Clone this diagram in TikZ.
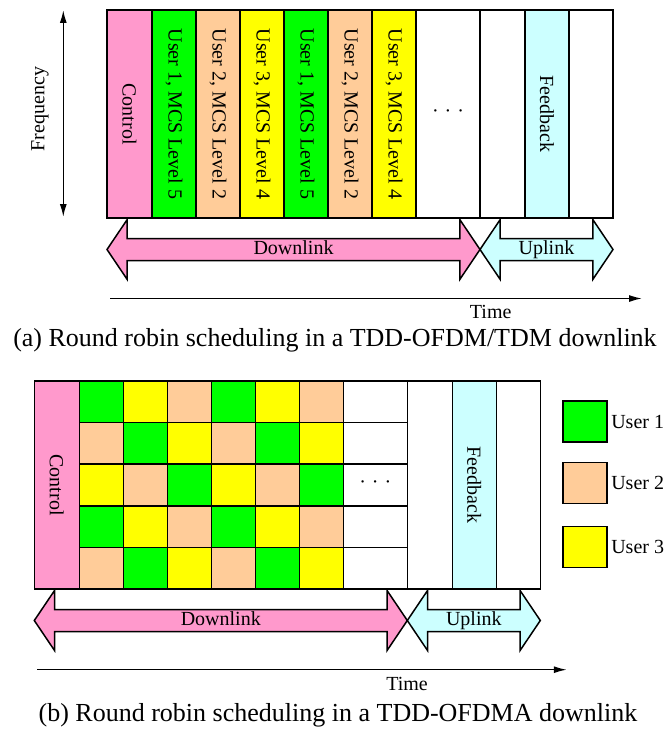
\documentclass[tikz,border=0pt]{standalone}
\usepackage{fontspec}
\setmainfont{Liberation Serif}
\usetikzlibrary{positioning,shapes.arrows,arrows.meta}

\definecolor{ctrl}{RGB}{255,153,204}
\definecolor{user1}{RGB}{0,255,0}
\definecolor{user2}{RGB}{255,204,153}
\definecolor{user3}{RGB}{255,255,0}
\definecolor{fback}{RGB}{204,255,255}

\begin{document}
\begin{tikzpicture}
    [x=1pt, y=-1pt, line width=1.5pt,
     every node/.style={font=\fontsize{20}{24}\selectfont},
     slot/.style={draw, rotate=-90, inner sep=0pt,
       minimum width=208pt, minimum height=#1},
     blank/.style={draw, inner sep=0pt, minimum width=#1, minimum height=208pt},
     cell/.style={draw, inner sep=0pt, minimum width=44pt, minimum height=41.6pt},
     link/.style={double arrow, draw, inner xsep=2pt, inner ysep=1pt,
       text height=14pt, text depth=4.5pt,
       double arrow head extend=19pt, double arrow tip angle=112},
     key/.style={draw, inner sep=0pt, minimum width=44pt, minimum height=41pt},
     caption/.style={font=\fontsize{26}{30}\selectfont, anchor=base},
     >={Latex[length=13pt,width=7pt]}]
    \useasboundingbox (0,0) rectangle (664,733);

    %% (a) one slot per user over the whole band
    \def \xa {107}
    \def \ya {10}
    \node[slot=45pt, fill=ctrl] (a-ctrl) at (\xa+22.5, \ya+104) {Control};
    \foreach \i/\u/\m in {1/1/5, 2/2/2, 3/3/4, 4/1/5, 5/2/2, 6/3/4}
      \node[slot=44pt, fill=user\u] (a-s\i) at (\xa+44*\i+23, \ya+104) {User \u, MCS Level \m};
    \node[blank=64pt] (a-more) at (\xa+341, \ya+104) {·\hspace{6pt}·\hspace{6pt}·};
    \node[blank=45pt] (a-ul1) at (\xa+395.5, \ya+104) {};
    \node[slot=44pt, fill=fback] (a-fb) at (\xa+440, \ya+104) {Feedback};
    \node[blank=44pt] (a-ul2) at (\xa+484, \ya+104) {};

    \node[link, fill=ctrl, minimum height=373pt] (a-down) at (\xa+186.5, \ya+239.5) {Downlink};
    \node[link, fill=fback, minimum height=133pt] (a-up) at (\xa+439.5, \ya+239.5) {Uplink};

    \coordinate (f-top) at (63.3, 10);
    \coordinate (f-bot) at (63.3, 217);
    \draw[<->] (f-top) -- (f-bot);
    \node[rotate=90] (freq) at (40, 109) {Frequency};

    \coordinate (a-t0) at (\xa+3, \ya+288.5);
    \coordinate (a-t1) at (\xa+535, \ya+288.5);
    \draw[->] (a-t0) -- (a-t1);
    \node[anchor=base] (a-time) at (\xa+383.7, \ya+308) {Time};

    \node[caption] (a-cap) at (335, 346.5) {(a) Round robin scheduling in a TDD-OFDM/TDM downlink};

    %% (b) users share the band, 5 subchannels per slot
    \def \xb {34.3}
    \def \yb {381}
    \node[slot=45pt, fill=ctrl] (b-ctrl) at (\xb+22.5, \yb+104) {Control};
    \foreach \r in {0,...,4}
    {
      \foreach \c in {0,...,5}
      {
        \pgfmathtruncatemacro \u {mod(\r-\c+6,3)+1}
        \node[cell, fill=user\u] (b-\r-\c) at (\xb+44*\c+67, \yb+41.6*\r+20.8) {};
      }
      \node[cell, minimum width=64pt] (b-\r-6) at (\xb+341, \yb+41.6*\r+20.8) {};
    }
    \node (b-more) at (b-2-6) {·\hspace{6pt}·\hspace{6pt}·};
    \node[blank=45pt] (b-ul1) at (\xb+395.5, \yb+104) {};
    \node[slot=44pt, fill=fback] (b-fb) at (\xb+440, \yb+104) {Feedback};
    \node[blank=44pt] (b-ul2) at (\xb+484, \yb+104) {};

    \node[link, fill=ctrl, minimum height=373pt] (b-down) at (\xb+186.5, \yb+239.5) {Downlink};
    \node[link, fill=fback, minimum height=133pt] (b-up) at (\xb+439.5, \yb+239.5) {Uplink};

    \coordinate (b-t0) at (\xb+3, \yb+288.7);
    \coordinate (b-t1) at (\xb+532.5, \yb+288.7);
    \draw[->] (b-t0) -- (b-t1);
    \node[anchor=base] (b-time) at (\xb+372.7, \yb+309) {Time};

    % legend
    \foreach \i/\ky in {1/421.7, 2/483.2, 3/546.8}
    {
      \node[key, fill=user\i] (key\i) at (584.8, \ky) {};
      \node[right=3pt of key\i, inner sep=0pt] (key\i-txt) {User \i};
    }

    \node[caption] (b-cap) at (338, 721.7) {(b) Round robin scheduling in a TDD-OFDMA downlink};
\end{tikzpicture}
\end{document}
